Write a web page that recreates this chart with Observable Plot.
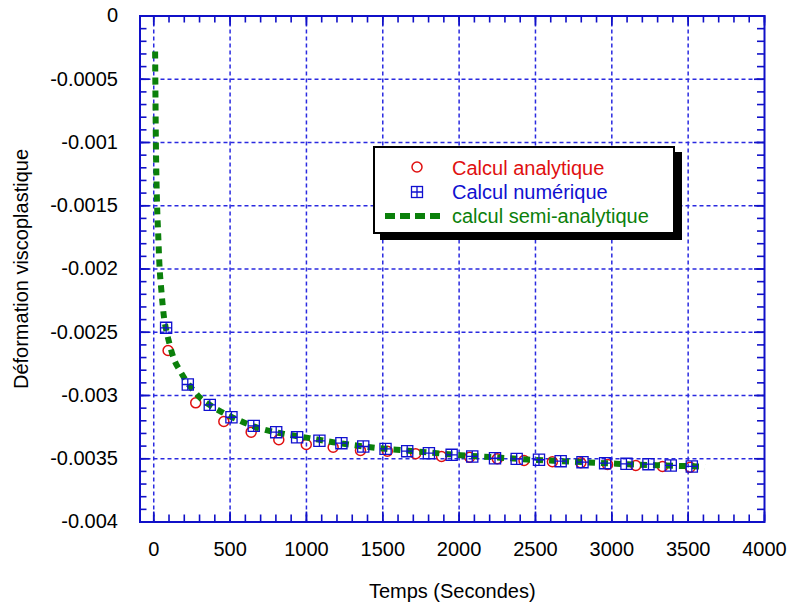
<!DOCTYPE html>
<html>
<head>
<meta charset="utf-8">
<script src="https://cdn.jsdelivr.net/npm/d3@7"></script>
<script src="https://cdn.jsdelivr.net/npm/@observablehq/plot@0.6"></script>
<style>
  html, body { margin: 0; padding: 0; background: #fff; }
  #wrap { position: relative; width: 787px; height: 613px; font-family: "Liberation Sans", Arial, sans-serif; }
  #legend { position: absolute; left: 373px; top: 146px; }
</style>
</head>
<body>
<div id="wrap"></div>
<script>
// ---- Data ----
// Calcul semi-analytique (green dashed curve)
const semiT = [9, 11, 14, 18, 22, 29, 37, 50, 68, 85, 105, 131, 168, 210, 256, 306, 360, 428, 546, 688, 852, 1020, 1175, 1420, 1591, 1800, 2010, 2250, 2447, 2731, 2950, 3168, 3400, 3610];
const semiV = [-0.00028, -0.0006, -0.001, -0.0013, -0.0015, -0.00172, -0.00196, -0.00217, -0.00239, -0.0025, -0.0026, -0.002708, -0.002797, -0.00288, -0.002955, -0.003021, -0.00307, -0.003119, -0.00319, -0.003258, -0.003303, -0.003337, -0.003369, -0.003409, -0.003429, -0.00345, -0.003472, -0.00349, -0.003506, -0.003522, -0.003535, -0.003546, -0.003555, -0.003563];

// Calcul analytique (red circles)
const anaT = [94, 275, 459, 638, 819, 999, 1175, 1354, 1530, 1715, 1885, 2069, 2250, 2425, 2611, 2797, 2972, 3157, 3332, 3513];
const anaV = [-0.002644, -0.003058, -0.003206, -0.00329, -0.00335, -0.003387, -0.003409, -0.003435, -0.00344, -0.00346, -0.003482, -0.003488, -0.0035, -0.003514, -0.003524, -0.003532, -0.003545, -0.003553, -0.003561, -0.003567];

// Calcul numérique (blue gridded squares)
const numT = [81, 223, 367, 509, 655, 802, 939, 1085, 1229, 1372, 1518, 1660, 1802, 1951, 2086, 2235, 2377, 2523, 2665, 2808, 2956, 3096, 3240, 3386, 3524];
const numV = [-0.002465, -0.002913, -0.003074, -0.003172, -0.00324, -0.00329, -0.00333, -0.003358, -0.003377, -0.003403, -0.003422, -0.00344, -0.003456, -0.003469, -0.003482, -0.003496, -0.003501, -0.003508, -0.003519, -0.003527, -0.003535, -0.00354, -0.003543, -0.003553, -0.003561];

// Ticks
const xTicks = [0, 500, 1000, 1500, 2000, 2500, 3000, 3500, 4000];
const xTickLabels = ["0", "500", "1000", "1500", "2000", "2500", "3000", "3500", "4000"];
const xMinor = d3.range(0, 41).map(i => i * 100);
const yTicks = [0, -0.0005, -0.001, -0.0015, -0.002, -0.0025, -0.003, -0.0035, -0.004];
const yTickLabels = ["0", "-0.0005", "-0.001", "-0.0015", "-0.002", "-0.0025", "-0.003", "-0.0035", "-0.004"];
const yMinor = d3.range(0, 41).map(i => -i / 10000);
const xGrid = [0, 500, 1000, 1500, 2000, 2500, 3000, 3500];
const yGrid = [-0.0005, -0.001, -0.0015, -0.002, -0.0025, -0.003, -0.0035];

const seriesNames = ["Calcul analytique", "Calcul numérique", "calcul semi-analytique"];
const xLabel = "Temps (Secondes)";
const yLabel = "Déformation viscoplastique";

// ---- Build tables ----
const semi = semiT.map((t, i) => ({t, v: semiV[i]}));
const ana = anaT.map((t, i) => ({t, v: anaV[i]}));
const num = numT.map((t, i) => ({t, v: numV[i]}));

const AX = "#1010c8";
const GRID = "#2a2ae0";
const RED = "#e01010";
const BLUE = "#1010d0";
const GREEN = "#0b800b";

const W = 787, H = 613, ML = 139.5, MR = 23, MT = 15.5, MB = 91.5;
const FW = W - ML - MR, FH = H - MT - MB;

const gridSquare = {
  draw(ctx, size) {
    const r = Math.sqrt(size) / 2;
    ctx.moveTo(-r, -r); ctx.lineTo(r, -r); ctx.lineTo(r, r); ctx.lineTo(-r, r); ctx.closePath();
    ctx.moveTo(0, -r); ctx.lineTo(0, r);
    ctx.moveTo(-r, 0); ctx.lineTo(r, 0);
  }
};

const yFmt = d => yTickLabels[yTicks.findIndex(v => Math.abs(v - d) < 1e-9)];
const xFmt = d => xTickLabels[xTicks.indexOf(d)];

const tickStyle = {stroke: AX, strokeWidth: 1.6};
const MINOR = 7, MAJOR = 10;

const chart = Plot.plot({
  width: W,
  height: H,
  marginLeft: ML,
  marginRight: MR,
  marginTop: MT,
  marginBottom: MB,
  style: {fontFamily: '"Liberation Sans", Arial, sans-serif', fontSize: "20px", color: "#000", background: "#fff"},
  x: {domain: [-90, 4000]},
  y: {domain: [-0.004, 0]},
  marks: [
    // grid
    Plot.ruleX(xGrid, {stroke: GRID, strokeWidth: 1.5, strokeDasharray: "4,3"}),
    Plot.ruleY(yGrid, {stroke: GRID, strokeWidth: 1.5, strokeDasharray: "4,3"}),
    // minor ticks (inward) on all four sides
    Plot.tickX(xMinor, {x: d => d, insetTop: FH - MINOR, ...tickStyle}),
    Plot.tickX(xMinor, {x: d => d, insetBottom: FH - MINOR, ...tickStyle}),
    Plot.tickY(yMinor, {y: d => d, insetRight: FW - MINOR, ...tickStyle}),
    Plot.tickY(yMinor, {y: d => d, insetLeft: FW - MINOR, ...tickStyle}),
    // major ticks (inward, longer)
    Plot.tickX(xTicks, {x: d => d, insetTop: FH - MAJOR, ...tickStyle}),
    Plot.tickX(xTicks, {x: d => d, insetBottom: FH - MAJOR, ...tickStyle}),
    Plot.tickY(yTicks, {y: d => d, insetRight: FW - MAJOR, ...tickStyle}),
    Plot.tickY(yTicks, {y: d => d, insetLeft: FW - MAJOR, ...tickStyle}),
    // labels
    Plot.axisX({anchor: "bottom", ticks: xTicks, tickSize: 0, tickPadding: 20, tickFormat: xFmt, fontSize: 20, fill: "#000",
      label: xLabel, labelAnchor: "center", labelArrow: "none", labelOffset: 76}),
    Plot.axisY({anchor: "left", ticks: yTicks, tickSize: 0, tickPadding: 22, tickFormat: yFmt, fontSize: 20, fill: "#000",
      label: yLabel, labelAnchor: "center", labelArrow: "none", labelOffset: 126}),
    Plot.frame({stroke: AX, strokeWidth: 2}),
    // data
    Plot.dot(ana, {x: "t", y: "v", r: 5, stroke: RED, strokeWidth: 1.5, fill: "none"}),
    Plot.line(semi, {x: "t", y: "v", stroke: GREEN, strokeWidth: 6, strokeDasharray: "7,6", strokeLinecap: "butt", curve: "monotone-x"}),
    Plot.dot(num, {x: "t", y: "v", r: 6.3, symbol: gridSquare, stroke: BLUE, strokeWidth: 1.3, fill: "none"})
  ]
});

const wrap = document.getElementById("wrap");
wrap.appendChild(chart);

// ---- Legend overlay ----
const ns = "http://www.w3.org/2000/svg";
const leg = document.createElementNS(ns, "svg");
leg.setAttribute("id", "legend");
leg.setAttribute("width", 312);
leg.setAttribute("height", 96);
leg.innerHTML = `
  <rect x="7" y="6" width="302" height="88" fill="#000"/>
  <rect x="1" y="1" width="300" height="86" fill="#fff" stroke="#000" stroke-width="2"/>
  <circle cx="44" cy="21" r="5" fill="none" stroke="${RED}" stroke-width="1.5"/>
  <g transform="translate(44,46)" fill="none" stroke="${BLUE}" stroke-width="1.3">
    <rect x="-5.5" y="-5.5" width="11" height="11"/>
    <path d="M0,-5.5V5.5M-5.5,0H5.5"/>
  </g>
  <line x1="12" x2="72" y1="70" y2="70" stroke="${GREEN}" stroke-width="6" stroke-dasharray="10,5"/>
  <g font-family='"Liberation Sans", Arial, sans-serif' font-size="20">
    <text x="79" y="29" fill="${RED}">${seriesNames[0]}</text>
    <text x="79" y="53" fill="${BLUE}">${seriesNames[1]}</text>
    <text x="79" y="77" fill="${GREEN}">${seriesNames[2]}</text>
  </g>`;
wrap.appendChild(leg);
</script>
</body>
</html>
